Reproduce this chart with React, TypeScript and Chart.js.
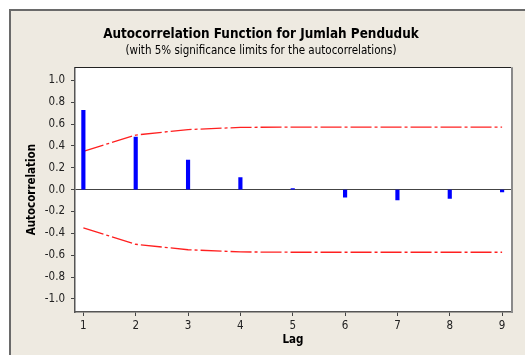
import React, { useEffect, useRef } from 'react';
import { Chart, registerables } from 'chart.js';

Chart.register(...registerables);

const lags = [1, 2, 3, 4, 5, 6, 7, 8, 9];
const acf = [0.725, 0.48, 0.27, 0.11, 0.01, -0.07, -0.095, -0.08, -0.02];
const upperLimit = [0.35, 0.5, 0.55, 0.57, 0.573, 0.573, 0.573, 0.573, 0.573];
const lowerLimit = [-0.35, -0.5, -0.55, -0.57, -0.573, -0.573, -0.573, -0.573, -0.573];
const yTicks = [-1.0, -0.8, -0.6, -0.4, -0.2, 0.0, 0.2, 0.4, 0.6, 0.8, 1.0];

const titleText = 'Autocorrelation Function for Jumlah Penduduk';
const subtitleText = '(with 5% significance limits for the autocorrelations)';
const FONT = "'DejaVu Sans Condensed', 'DejaVu Sans', sans-serif";

const framePlugin = {
  id: 'frame',
  beforeDraw(chart: any) {
    const { ctx, chartArea } = chart;
    ctx.save();
    ctx.fillStyle = '#ffffff';
    ctx.fillRect(chartArea.left, chartArea.top, chartArea.right - chartArea.left, chartArea.bottom - chartArea.top);
    ctx.restore();
  },
  afterDraw(chart: any) {
    const { ctx, chartArea } = chart;
    ctx.save();
    ctx.strokeStyle = '#222222';
    ctx.lineWidth = 1;
    ctx.beginPath();
    ctx.moveTo(chartArea.left, Math.round(chartArea.top) + 0.5);
    ctx.lineTo(chartArea.right, Math.round(chartArea.top) + 0.5);
    ctx.stroke();
    ctx.strokeStyle = '#8a8a8a';
    ctx.lineWidth = 2;
    ctx.beginPath();
    ctx.moveTo(Math.round(chartArea.right) + 1, chartArea.top);
    ctx.lineTo(Math.round(chartArea.right) + 1, chartArea.bottom + 1);
    ctx.stroke();
    ctx.restore();
  },
};

export default function App() {
  const ref = useRef<HTMLCanvasElement | null>(null);

  useEffect(() => {
    if (!ref.current) return;
    const chart = new Chart(ref.current, {
      type: 'bar',
      data: {
        datasets: [
          {
            type: 'bar',
            data: lags.map((l, i) => ({ x: l, y: acf[i] })),
            backgroundColor: '#0000ff',
            borderWidth: 0,
            barThickness: 3.5,
            order: 0,
          } as any,
          {
            type: 'line',
            data: lags.map((l, i) => ({ x: l, y: upperLimit[i] })),
            borderColor: '#ff2020',
            borderWidth: 1.3,
            borderDash: [21, 3, 3, 3],
            pointRadius: 0,
            tension: 0,
            fill: false,
            order: 1,
          },
          {
            type: 'line',
            data: lags.map((l, i) => ({ x: l, y: lowerLimit[i] })),
            borderColor: '#ff2020',
            borderWidth: 1.3,
            borderDash: [21, 3, 3, 3],
            pointRadius: 0,
            tension: 0,
            fill: false,
            order: 1,
          },
        ],
      },
      options: {
        animation: false,
        responsive: false,
        maintainAspectRatio: false,
        layout: { padding: { left: 0, right: 14, top: 0, bottom: 0 } },
        plugins: {
          legend: { display: false },
          tooltip: { enabled: false },
          title: {
            display: true,
            text: titleText,
            color: '#000000',
            font: { family: FONT, size: 13.4, weight: 'bold' },
            padding: { top: 15, bottom: 0 },
          },
          subtitle: {
            display: true,
            text: subtitleText,
            color: '#000000',
            font: { family: FONT, size: 11.5, weight: 'normal' },
            padding: { top: 2.4, bottom: 9 },
          },
        },
        scales: {
          x: {
            type: 'linear',
            min: 0.84,
            max: 9.17,
            offset: false,
            afterBuildTicks: (scale: any) => {
              scale.ticks = lags.map((v) => ({ value: v }));
            },
            afterFit: (scale: any) => {
              scale.height = 43;
            },
            ticks: {
              color: '#222222',
              font: { family: FONT, size: 11.5 },
              padding: 3,
              maxRotation: 0,
              autoSkip: false,
              callback: (v: any) => String(v),
            },
            grid: {
              display: true,
              offset: false,
              drawOnChartArea: false,
              drawTicks: true,
              tickLength: 4,
              tickColor: '#444444',
            },
            border: { display: true, color: '#555555', width: 1.5 },
            title: {
              display: true,
              text: 'Lag',
              color: '#000000',
              font: { family: FONT, size: 11.5, weight: 'bold' },
              padding: { top: 0, bottom: 8 },
            },
          },
          y: {
            type: 'linear',
            min: -1.12,
            max: 1.12,
            afterBuildTicks: (scale: any) => {
              scale.ticks = yTicks.map((v) => ({ value: v }));
            },
            afterFit: (scale: any) => {
              scale.width = 64;
            },
            ticks: {
              color: '#222222',
              font: { family: FONT, size: 11.5 },
              padding: 6,
              autoSkip: false,
              callback: (v: any) => Number(v).toFixed(1),
            },
            grid: {
              display: true,
              drawTicks: true,
              tickLength: 4,
              tickColor: '#444444',
              color: (ctx: any) => (ctx.tick && Math.abs(ctx.tick.value) < 1e-9 ? '#444444' : 'rgba(0,0,0,0)'),
              lineWidth: 1,
            },
            border: { display: true, color: '#555555', width: 1.5 },
            title: {
              display: true,
              text: 'Autocorrelation',
              color: '#000000',
              font: { family: FONT, size: 11.5, weight: 'bold' },
              padding: { top: 14, bottom: 0 },
            },
          },
        },
      },
      plugins: [framePlugin],
    } as any);
    return () => chart.destroy();
  }, []);

  return (
    <div
      style={{
        position: 'absolute',
        left: 9,
        top: 9,
        width: 516,
        height: 346,
        boxSizing: 'border-box',
        background: '#eeeae1',
        borderTop: '2px solid #6a6a6a',
        borderLeft: '2px solid #6a6a6a',
      }}
    >
      <canvas ref={ref} width={514} height={344} style={{ display: 'block', width: 514, height: 344 }} />
    </div>
  );
}
